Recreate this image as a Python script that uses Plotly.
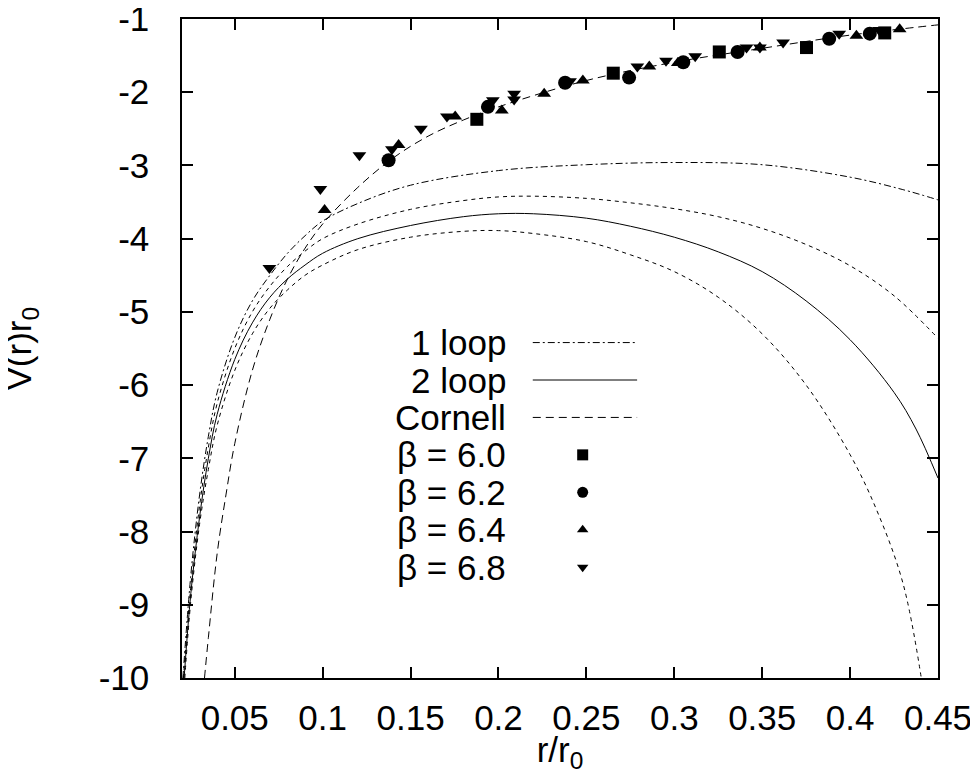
import plotly.graph_objects as go

# ---------------- data ----------------
x_ticks = [0.05, 0.1, 0.15, 0.2, 0.25, 0.3, 0.35, 0.4, 0.45]
x_ticktext = ["0.05", "0.1", "0.15", "0.2", "0.25", "0.3", "0.35", "0.4", "0.45"]
y_ticks = [-1, -2, -3, -4, -5, -6, -7, -8, -9, -10]
y_ticktext = ["-1", "-2", "-3", "-4", "-5", "-6", "-7", "-8", "-9", "-10"]

# 1 loop (dash-dot)
loop1_x = [0.0205, 0.025, 0.03, 0.035, 0.04, 0.05, 0.06, 0.07, 0.08, 0.09, 0.1, 0.12, 0.15,
           0.2, 0.25, 0.3, 0.35, 0.4, 0.43, 0.45]
loop1_y = [-10.0, -8.6, -7.5, -6.7, -6.1, -5.35, -4.85, -4.5, -4.2, -3.96, -3.76, -3.52, -3.27,
           -3.07, -2.99, -2.96, -2.99, -3.16, -3.33, -3.47]

# 2 loop (solid)
loop2_x = [0.0212, 0.025, 0.03, 0.035, 0.04, 0.05, 0.06, 0.07, 0.08, 0.09, 0.1, 0.12, 0.15, 0.18,
           0.2, 0.22, 0.25, 0.275, 0.3, 0.325, 0.35, 0.375, 0.4, 0.425, 0.4375, 0.45]
loop2_y = [-10.0, -8.85, -7.8, -7.0, -6.4, -5.65, -5.15, -4.8, -4.55, -4.36, -4.2, -4.0, -3.82, -3.7,
           -3.66, -3.66, -3.72, -3.83, -3.98, -4.18, -4.45, -4.85, -5.38, -6.1, -6.6, -7.27]

# upper band of 2 loop (fine dashed)
upper_x = [0.0208, 0.025, 0.03, 0.035, 0.04, 0.05, 0.06, 0.07, 0.08, 0.09, 0.1, 0.12, 0.15, 0.18,
           0.2, 0.22, 0.25, 0.275, 0.3, 0.325, 0.35, 0.375, 0.4, 0.425, 0.45]
upper_y = [-10.0, -8.75, -7.65, -6.85, -6.25, -5.5, -5.0, -4.65, -4.38, -4.17, -4.0, -3.8, -3.6, -3.48,
           -3.43, -3.42, -3.45, -3.51, -3.59, -3.7, -3.86, -4.08, -4.37, -4.78, -5.36]

# lower band of 2 loop (fine dashed)
lower_x = [0.0216, 0.025, 0.03, 0.035, 0.04, 0.05, 0.06, 0.07, 0.08, 0.09, 0.1, 0.12, 0.15, 0.18,
           0.2, 0.22, 0.25, 0.275, 0.3, 0.325, 0.35, 0.375, 0.4, 0.415, 0.43, 0.4405]
lower_y = [-10.0, -8.95, -7.9, -7.15, -6.55, -5.8, -5.3, -4.95, -4.7, -4.5, -4.36, -4.15, -3.98, -3.9,
           -3.89, -3.93, -4.04, -4.22, -4.45, -4.8, -5.3, -6.0, -6.95, -7.7, -8.7, -10.0]

# Cornell (long dashed)
cornell_x = [0.0328, 0.035, 0.04, 0.045, 0.05, 0.06, 0.07, 0.08, 0.09, 0.1, 0.12, 0.14, 0.16, 0.18,
             0.2, 0.25, 0.3, 0.35, 0.4, 0.45]
cornell_y = [-10.0, -9.45, -8.3, -7.5, -6.8, -5.8, -5.1, -4.55, -4.13, -3.8, -3.3, -2.9, -2.6, -2.38,
             -2.2, -1.84, -1.59, -1.4, -1.22, -1.08]

# lattice data
b60_x = [0.1877, 0.2653, 0.3256, 0.3752, 0.4197]
b60_y = [-2.37, -1.74, -1.45, -1.39, -1.19]
b62_x = [0.1375, 0.1940, 0.2379, 0.2743, 0.3051, 0.3360, 0.3881, 0.4112]
b62_y = [-2.93, -2.20, -1.87, -1.80, -1.59, -1.45, -1.27, -1.20]
b64_x = [0.1011, 0.1432, 0.1754, 0.2019, 0.226, 0.2480, 0.2858, 0.302, 0.3487, 0.4036, 0.4282]
b64_y = [-3.61, -2.72, -2.33, -2.25, -2.02, -1.84, -1.65, -1.60, -1.39, -1.23, -1.14]
b68_x = [0.0697, 0.0987, 0.1209, 0.1394, 0.1559, 0.1707, 0.1968, 0.2089, 0.2089, 0.2407, 0.2790,
         0.2953, 0.3119, 0.3411, 0.3487, 0.3619, 0.3938, 0.4165]
b68_y = [-4.40, -3.32, -2.86, -2.78, -2.50, -2.33, -2.11, -2.02, -2.10, -1.85, -1.65,
         -1.57, -1.51, -1.39, -1.39, -1.32, -1.20, -1.15]

legend_labels = ["1 loop", "2 loop", "Cornell", "β = 6.0", "β = 6.2", "β = 6.4", "β = 6.8"]

# ---------------- styling ----------------
FONT = "Liberation Sans, Arial, Helvetica, sans-serif"
FS = 35
BLACK = "#000000"
DASHDOT = "7px,3px,2px,3px"
LONGDASH = "8px,5px"
FINEDASH = "4px,4px"

fig = go.Figure()

def curve(x, y, dash):
    fig.add_trace(go.Scatter(x=x, y=y, mode="lines",
                             line=dict(color=BLACK, width=1, dash=dash, shape="spline", smoothing=1.0),
                             showlegend=False, hoverinfo="skip"))

curve(upper_x, upper_y, FINEDASH)
curve(lower_x, lower_y, FINEDASH)
curve(loop1_x, loop1_y, DASHDOT)
curve(loop2_x, loop2_y, "solid")
curve(cornell_x, cornell_y, LONGDASH)

def pts(x, y, sym, size):
    fig.add_trace(go.Scatter(x=x, y=y, mode="markers",
                             marker=dict(symbol=sym, size=size, color=BLACK, line=dict(width=0)),
                             showlegend=False, hoverinfo="skip"))

pts(b60_x, b60_y, "square", 13)
pts(b62_x, b62_y, "circle", 14)
pts(b64_x, b64_y, "triangle-up", 12)
pts(b68_x, b68_y, "triangle-down", 12)

# ---------------- hand-drawn key (text left, sample right) ----------------
key_text_x = 0.431
key_line = [0.464, 0.602]
key_mark_x = 0.530
key_top = 0.509
key_step = 0.0568
key_rows = [key_top - i * key_step for i in range(len(legend_labels))]

for lab, yy in zip(legend_labels, key_rows):
    fig.add_annotation(x=key_text_x, y=yy, xref="paper", yref="paper", text=lab,
                       showarrow=False, xanchor="right", yanchor="middle",
                       font=dict(family=FONT, size=FS, color=BLACK))

for dash, yy in zip([DASHDOT, "solid", LONGDASH], key_rows[:3]):
    fig.add_trace(go.Scatter(x=key_line, y=[yy, yy], xaxis="x2", yaxis="y2", mode="lines",
                             line=dict(color=BLACK, width=1, dash=dash),
                             showlegend=False, hoverinfo="skip"))
for sym, size, yy in zip(["square", "circle", "triangle-up", "triangle-down"], [11, 11, 10, 10], key_rows[3:]):
    fig.add_trace(go.Scatter(x=[key_mark_x], y=[yy], xaxis="x2", yaxis="y2", mode="markers",
                             marker=dict(symbol=sym, size=size, color=BLACK),
                             showlegend=False, hoverinfo="skip"))

# y-axis title, placed as a rotated annotation
fig.add_annotation(x=-0.213, y=0.5, xref="paper", yref="paper", text="V(r)r<sub>0</sub>",
                   showarrow=False, textangle=-90, xanchor="center", yanchor="middle",
                   font=dict(family=FONT, size=FS, color=BLACK))

axis_common = dict(showline=True, linecolor=BLACK, linewidth=1.5, mirror="ticks",
                   ticks="inside", ticklen=11, tickwidth=1.5, tickcolor=BLACK,
                   showgrid=False, zeroline=False, automargin=False,
                   ticklabeloverflow="allow",
                   tickfont=dict(family=FONT, size=FS, color=BLACK))

# the page body adds an 8px offset, so the figure is sized to fill the rest of the window
fig.update_layout(
    width=970, height=766,
    margin=dict(l=174, r=40, t=11, b=96),
    paper_bgcolor="white", plot_bgcolor="white",
    showlegend=False,
    xaxis=dict(range=[0.02, 0.45], tickvals=x_ticks, ticktext=x_ticktext,
               ticklabelstandoff=8,
               title=dict(text="r/r<sub>0</sub>", font=dict(family=FONT, size=FS, color=BLACK), standoff=0),
               **axis_common),
    yaxis=dict(range=[-10, -1], tickvals=y_ticks, ticktext=y_ticktext,
               ticklabelstandoff=24,
               **axis_common),
    xaxis2=dict(range=[0, 1], domain=[0, 1], overlaying="x", visible=False, fixedrange=True),
    yaxis2=dict(range=[0, 1], domain=[0, 1], overlaying="y", visible=False, fixedrange=True),
)

fig.write_html("out.html")
